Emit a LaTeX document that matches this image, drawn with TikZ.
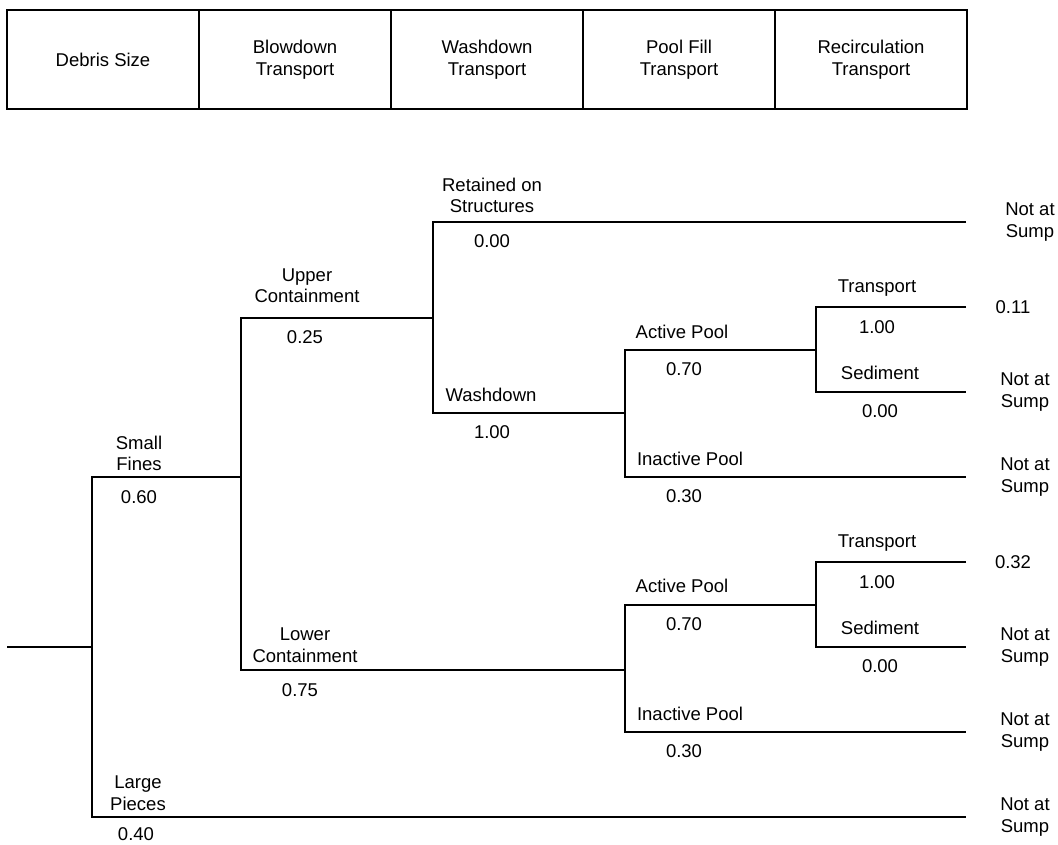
\documentclass[tikz,border=0pt]{standalone}
\usepackage{fontspec}
\setmainfont{Liberation Sans}
\begin{document}
\begin{tikzpicture}[x=1pt,y=-1pt,line width=1.6pt,
    every node/.style={font=\fontsize{18.5}{21.5}\selectfont},
    cell/.style={draw,line width=2pt,minimum width=192pt,minimum height=99pt,align=center},
    lbl/.style={align=center,inner sep=0pt}]
  \useasboundingbox (0,0) rectangle (1058,844);
  % header row
  \foreach \i/\txt in {0/Debris Size,1/Blowdown\\Transport,2/Washdown\\Transport,3/Pool Fill\\Transport,4/Recirculation\\Transport}{
    \node[cell] (head\i) at (103+192*\i,59.5) {\txt};
  }
  % junctions and branch ends
  \foreach \n/\x/\y in {root/7/647,fork/92/647,sf/92/477,sfE/241/477,lp/92/817,lpE/966/817,
      uc/241/318,ucE/433/318,lc/241/670,lcE/625/670,
      rs/433/222,rsE/966/222,wd/433/413,wdE/625/413,
      apa/625/350,apaE/816/350,ipa/625/477,ipaE/966/477,
      tra/816/307,traE/966/307,sda/816/392,sdaE/966/392,
      apb/625/605,apbE/816/605,ipb/625/732,ipbE/966/732,
      trb/816/562,trbE/966/562,sdb/816/647,sdbE/966/647}
    \coordinate (\n) at (\x,\y);
  \draw (root) -- (fork);
  \draw (sfE) -- (sf) -- (lp) -- (lpE);
  \draw (ucE) -- (uc) -- (lc) -- (lcE);
  \draw (rsE) -- (rs) -- (wd) -- (wdE);
  \draw (apaE) -- (apa) -- (ipa) -- (ipaE);
  \draw (traE) -- (tra) -- (sda) -- (sdaE);
  \draw (apbE) -- (apb) -- (ipb) -- (ipbE);
  \draw (trbE) -- (trb) -- (sdb) -- (sdbE);
  % branch names and probabilities
  \foreach \n/\x/\y/\txt in {sfL/139/453.5/Small\\Fines,sfV/139/497/0.60,
      lpL/138/793/Large\\Pieces,lpV/136/834/0.40,
      ucL/307/285.5/Upper\\Containment,ucV/305/337/0.25,
      lcL/305/645/Lower\\Containment,lcV/300/690/0.75,
      rsL/492/195.5/Retained on\\Structures,rsV/492/241/0.00,
      wdL/491/395/Washdown,wdV/492/432/1.00,
      apaL/682/332/Active Pool,apaV/684/369/0.70,
      ipaL/690/459/Inactive Pool,ipaV/684/496/0.30,
      traL/877/288/Transport,traV/877/327/1.00,
      sdaL/880/373/Sediment,sdaV/880/411/0.00,
      apbL/682/586/Active Pool,apbV/684/624/0.70,
      ipbL/690/714/Inactive Pool,ipbV/684/751/0.30,
      trbL/877/543/Transport,trbV/877/582/1.00,
      sdbL/880/628/Sediment,sdbV/880/666/0.00}
    \node[lbl] (\n) at (\x,\y) {\txt};
  % outcomes
  \foreach \n/\x/\y/\txt in {rsO/1030/222/Not at\\Sump,traO/1013/307/0.11,sdaO/1025/392/Not at\\Sump,
      ipaO/1025/477/Not at\\Sump,trbO/1013/562/0.32,sdbO/1025/647/Not at\\Sump,
      ipbO/1025/732/Not at\\Sump,lpO/1025/817/Not at\\Sump}
    \node[lbl] (\n) at (\x,\y) {\txt};
\end{tikzpicture}
\end{document}
